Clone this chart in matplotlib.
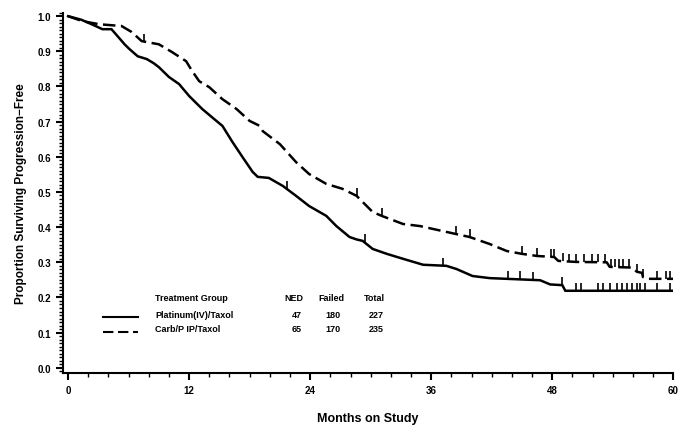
import numpy as np
import matplotlib
matplotlib.use("Agg")
import matplotlib.pyplot as plt
from matplotlib.ticker import MultipleLocator

plt.rcParams["font.family"] = ["Liberation Sans Narrow", "Liberation Sans", "DejaVu Sans"]
plt.rcParams["font.weight"] = "bold"

# Kaplan-Meier curves (months, proportion progression-free).
# The original has so many small steps it reads as a jagged line, so these are vertices.
iv_time = [0, 1.3, 2.5, 3.4, 4.3, 5.0, 5.6, 6.1, 6.9, 7.8, 8.5, 9.0, 10.0, 11.0, 12.0,
           13.3, 14.5, 15.3, 16.3, 17.3, 18.3, 18.8, 19.9, 21.3, 22.6, 23.9, 25.6, 26.6,
           27.9, 28.6, 29.2, 30.2, 31.6, 33.2, 35.2, 37.5, 38.5, 40.1, 41.8, 46.8, 47.8,
           49.0, 49.3, 60]
iv_surv = [1.0, 0.99, 0.975, 0.963, 0.963, 0.94, 0.92, 0.906, 0.886, 0.878, 0.866, 0.855,
           0.827, 0.807, 0.773, 0.736, 0.707, 0.688, 0.642, 0.599, 0.557, 0.543, 0.54,
           0.517, 0.489, 0.46, 0.432, 0.403, 0.372, 0.365, 0.361, 0.338, 0.324, 0.31,
           0.293, 0.29, 0.281, 0.261, 0.255, 0.249, 0.237, 0.235, 0.219, 0.219]
iv_cens = [21.7, 29.4, 37.2, 43.6, 44.8, 46.1, 49.0, 50.4, 50.9, 52.5, 53.0, 53.7, 54.4,
           54.9, 55.4, 55.9, 56.4, 56.7, 57.2, 58.4, 59.7]

ip_time = [0, 1.4, 3.1, 5.3, 6.3, 7.3, 9.0, 10.3, 11.7, 12.3, 13.0, 14.0, 15.3, 16.7, 18.0,
           19.0, 19.3, 21.0, 22.6, 23.9, 25.6, 27.2, 28.6, 30.2, 31.1, 33.2, 34.9, 37.1,
           39.8, 41.8, 43.5, 45.0, 46.5, 48.2, 48.6, 50.4, 53.4, 53.7, 55.9, 56.4, 56.9,
           57.0, 57.5, 60]
ip_surv = [1.0, 0.986, 0.977, 0.972, 0.955, 0.929, 0.92, 0.898, 0.872, 0.844, 0.815, 0.798,
           0.764, 0.736, 0.702, 0.688, 0.673, 0.636, 0.585, 0.551, 0.523, 0.509, 0.489,
           0.443, 0.432, 0.409, 0.403, 0.389, 0.372, 0.352, 0.332, 0.324, 0.318, 0.315,
           0.304, 0.301, 0.3, 0.287, 0.285, 0.273, 0.27, 0.258, 0.253, 0.253]
ip_cens = [7.5, 28.6, 31.1, 38.5, 39.8, 45.0, 46.5, 47.9, 48.2, 49.1, 49.7, 50.4, 51.2,
           51.9, 52.5, 53.2, 53.8, 54.2, 54.6, 55.0, 55.6, 56.4, 57.0, 58.4, 59.3, 59.7]

groups = ["Platinum(IV)/Taxol", "Carb/P IP/Taxol"]
ned = [47, 65]
failed = [180, 170]
total = [227, 235]


def km_curve(ax, t, s, cens, ls):
    ax.plot(t, s, color="black", lw=1.8, ls=ls, solid_joinstyle="miter")
    cs = np.interp(cens, t, s)
    ax.plot(cens, cs, ls="none", marker=2, ms=6, mew=1.2, color="black")


fig = plt.figure(figsize=(6.78, 4.27), dpi=100)
ax = fig.add_axes([0.093, 0.124, 0.9, 0.844])

km_curve(ax, iv_time, iv_surv, iv_cens, "-")
km_curve(ax, ip_time, ip_surv, ip_cens, (0, (5, 2.2)))

ax.set_xlim(-0.5, 60)
ax.set_ylim(-0.015, 1.01)
ax.spines["top"].set_visible(False)
ax.spines["right"].set_visible(False)
for sp in ("left", "bottom"):
    ax.spines[sp].set_linewidth(1.5)
ax.xaxis.set_major_locator(MultipleLocator(12))
ax.xaxis.set_minor_locator(MultipleLocator(2))
ax.yaxis.set_major_locator(MultipleLocator(0.1))
ax.yaxis.set_minor_locator(MultipleLocator(0.01))
ax.yaxis.set_major_formatter(lambda v, p: f"{v:.1f}")
ax.tick_params(which="major", length=5, width=1.5, labelsize=7)
ax.tick_params(which="minor", length=3, width=1.0)

ax.set_xlabel("Months on Study", fontsize=9, fontweight="bold", labelpad=12)
ax.set_ylabel("Proportion Surviving Progression\u2212Free", fontsize=8.5,
              fontweight="bold", labelpad=8)


# legend table drawn by hand, like the SAS output
def fx(px):
    return px / 678


def fy(py):
    return 1 - py / 427


fs = 6.5
fig.text(fx(155), fy(299), "Treatment Group", fontsize=fs, va="center")
fig.text(fx(303), fy(299), "NED", fontsize=fs, va="center", ha="right")
fig.text(fx(344), fy(299), "Failed", fontsize=fs, va="center", ha="right")
fig.text(fx(385), fy(299), "Total", fontsize=fs, va="center", ha="right")
rows = [315, 330]
styles = ["-", (0, (5, 2.2))]
for i, g in enumerate(groups):
    y = rows[i]
    fig.text(fx(155), fy(y), g, fontsize=fs, va="center")
    fig.text(fx(302), fy(y), str(ned[i]), fontsize=fs, va="center", ha="right")
    fig.text(fx(341), fy(y), str(failed[i]), fontsize=fs, va="center", ha="right")
    fig.text(fx(384), fy(y), str(total[i]), fontsize=fs, va="center", ha="right")
    fig.add_artist(plt.Line2D([fx(103), fx(138)], [fy(y + 3), fy(y + 3)], color="black",
                              lw=1.5, ls=styles[i], transform=fig.transFigure))

fig.savefig("out.png", dpi=100)
